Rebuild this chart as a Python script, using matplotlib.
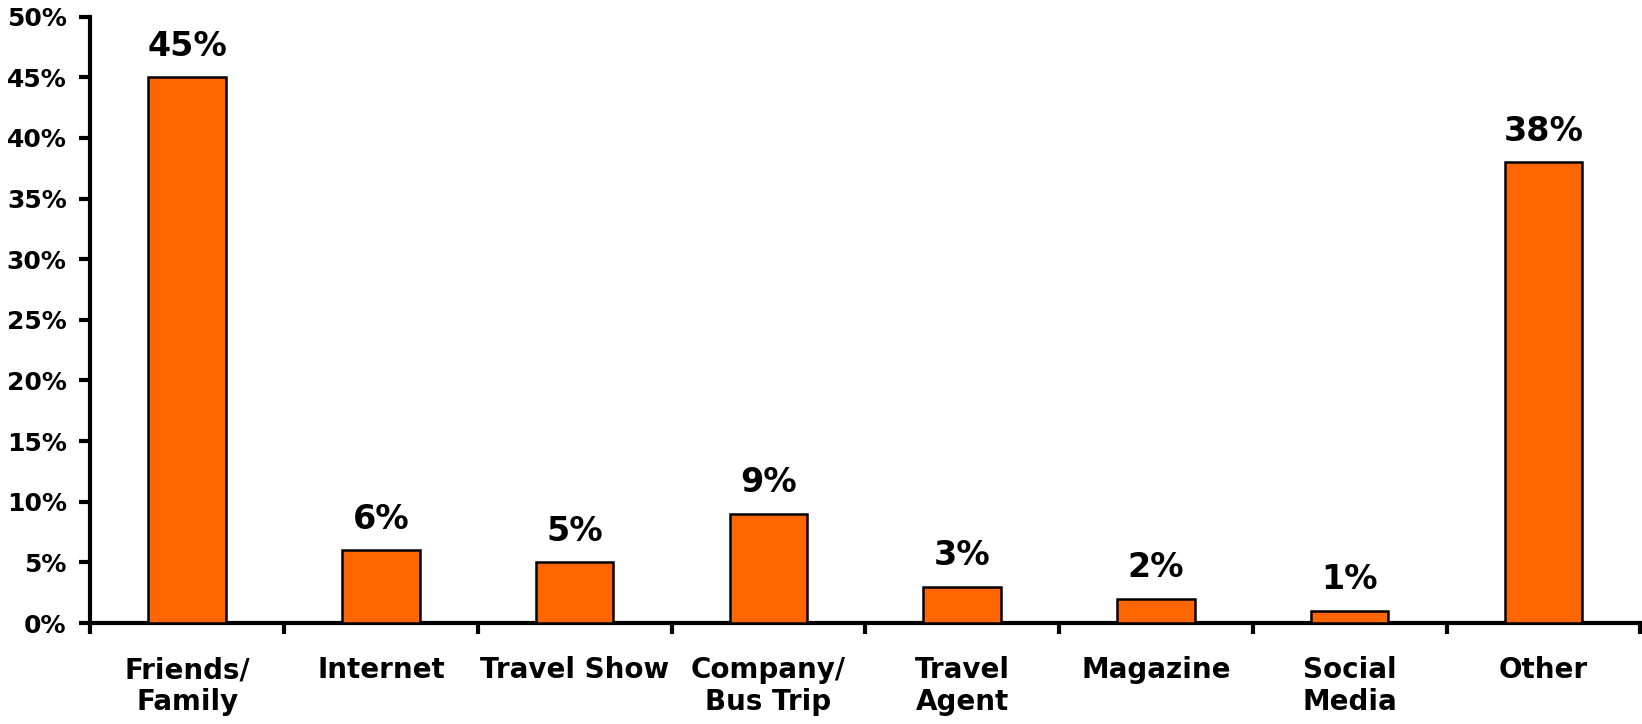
import matplotlib.pyplot as plt
from matplotlib.ticker import MultipleLocator, FuncFormatter

categories = ["Friends/\nFamily", "Internet", "Travel Show", "Company/\nBus Trip",
              "Travel\nAgent", "Magazine", "Social\nMedia", "Other"]
values = [45, 6, 5, 9, 3, 2, 1, 38]

plt.rcParams['font.family'] = ['DejaVu Sans']
plt.rcParams['font.weight'] = 'bold'

fig = plt.figure(figsize=(16.42, 7.24), dpi=100)
ax = fig.add_axes([0.055, 0.1395, 0.944, 0.8375])

x = range(len(values))
ax.bar(x, values, width=0.4, color="#FF6600", edgecolor="black", linewidth=1.8, zorder=3)

for i, v in enumerate(values):
    ax.text(i, v + 1.2, f"{v}%", ha="center", va="bottom", fontsize=24, fontweight="bold")

ax.set_xlim(-0.5, len(values) - 0.5)
ax.set_ylim(0, 50)
ax.yaxis.set_major_locator(MultipleLocator(5))
ax.yaxis.set_major_formatter(FuncFormatter(lambda v, p: f"{v:.0f}%"))

ax.set_xticks([i + 0.5 for i in range(-1, len(values))])
ax.set_xticklabels([])
ax.set_xticks(list(x), minor=True)
ax.set_xticklabels(categories, minor=True, fontsize=20, fontweight="bold", linespacing=1.15)
ax.tick_params(axis="x", which="minor", length=0, pad=24)
ax.tick_params(axis="x", which="major", length=8, width=3, direction="out")
ax.tick_params(axis="y", length=8, width=3, direction="out", labelsize=18, pad=9)

for s in ["top", "right"]:
    ax.spines[s].set_visible(False)
for s in ["left", "bottom"]:
    ax.spines[s].set_linewidth(3)

plt.savefig("out.png", dpi=100)
